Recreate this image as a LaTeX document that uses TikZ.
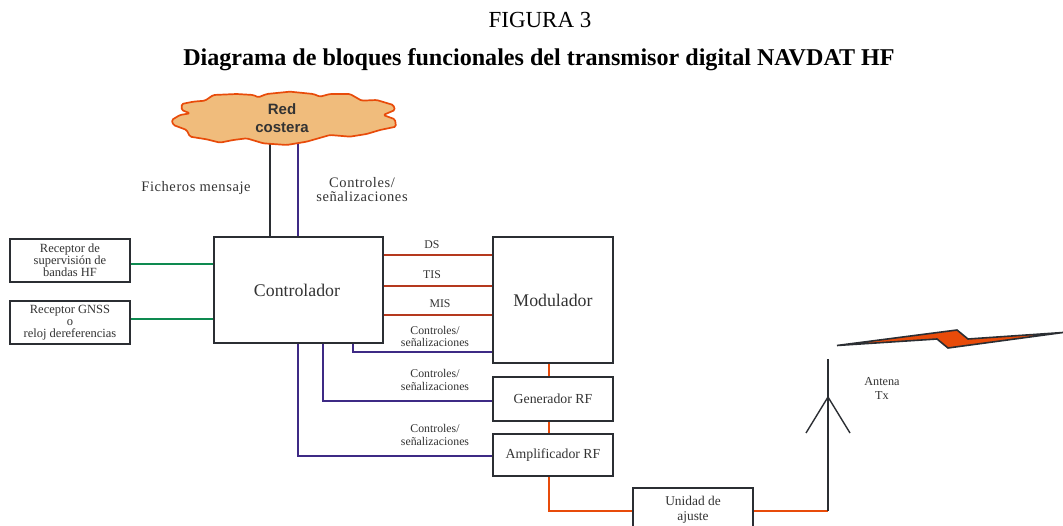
\documentclass[tikz,border=0pt]{standalone}
\usepackage{fontspec}
\setmainfont{Liberation Serif}
\newfontfamily\sansf{Liberation Sans}
\definecolor{dk}{HTML}{2B2E33}
\definecolor{grn}{HTML}{0E8A50}
\definecolor{pur}{HTML}{3E2A85}
\definecolor{brn}{HTML}{B5391E}
\definecolor{org}{HTML}{E84B0A}
\definecolor{sand}{HTML}{F0BC7C}
\definecolor{txt}{HTML}{333333}
\tikzset{
  x=1pt,y=-1pt,
  blk/.style={draw=dk,line width=1.6pt,fill=white,inner sep=0pt,align=center,text=txt},
  lbl/.style={inner sep=0pt,align=center,text=txt},
  sm/.style={font=\fontsize{11.8}{#1}\selectfont},
  lnk/.style={line width=1.5pt},
  ctl/.style={lnk,draw=pur},
  sig/.style={lnk,draw=brn},
  rf/.style={lnk,draw=org},
  gr/.style={lnk,draw=grn},
  ant/.style={line width=1.4pt,draw=dk},
}
\begin{document}
\begin{tikzpicture}
\useasboundingbox (0,0) rectangle (1063,526);
\node[inner sep=0pt,anchor=base,font=\fontsize{23}{23}\selectfont] (fig) at (540,28) {FIGURA 3};
\node[inner sep=0pt,anchor=base,font=\fontsize{24.1}{24.1}\selectfont\bfseries] (title) at (539,66) {Diagrama de bloques funcionales del transmisor digital NAVDAT HF};
% boxes
\node[blk,minimum width=120pt,minimum height=43pt,font=\fontsize{12.5}{11.8}\selectfont] (sup) at (70,260.5) {Receptor de\\supervisión de\\bandas HF};
\node[blk,minimum width=120pt,minimum height=43pt,font=\fontsize{12.5}{12}\selectfont] (gnss) at (70,322.5) {Receptor GNSS\\o\\reloj dereferencias};
\node[blk,minimum width=169pt,minimum height=106pt,font=\fontsize{17.8}{18}\selectfont] (ctrl) at (298.5,290) {Controlador\kern3pt};
\node[blk,minimum width=120pt,minimum height=126pt,font=\fontsize{17.8}{18}\selectfont] (mod) at (553,300) {Modulador};
\node[blk,minimum width=120pt,minimum height=44pt,font=\fontsize{13.8}{14}\selectfont] (gen) at (553,399) {Generador RF};
\node[blk,minimum width=120pt,minimum height=42pt,font=\fontsize{13.8}{14}\selectfont] (amp) at (553,455) {Amplificador RF};
\node[blk,minimum width=120pt,minimum height=43pt,font=\fontsize{13.4}{15}\selectfont,anchor=north] (unit) at (693,487) {Unidad de\\ajuste};
% cloud links
\coordinate (cA) at (270,143);
\coordinate (cB) at (298,143);
\draw[lnk,draw=dk] (cA) -- (ctrl.north -| cA);
\draw[ctl] (cB) -- (ctrl.north -| cB);
% cloud
\begin{scope}[shift={(150,80)},x=0.33333pt,y=-0.33333pt]
\draw[draw=org,line width=1.7pt,fill=sand,line join=round,rounded corners=1.5pt]
 (95,72) -- (130,65) -- (165,62) -- (190,45) -- (260,42) -- (310,45) -- (325,52) -- (350,42) -- (420,35) -- (490,42) -- (510,50) -- (540,42) -- (600,42) -- (635,62) -- (680,60) -- (730,75) -- (735,90) -- (700,105) -- (735,118) -- (738,140) -- (690,150) -- (650,162) -- (600,170) -- (540,165) -- (470,185) -- (410,195) -- (340,190) -- (290,175) -- (250,180) -- (210,188) -- (170,178) -- (120,170) -- (110,150) -- (70,135) -- (65,120) -- (90,105) -- (120,100) -- (95,90) -- cycle;
\end{scope}
\node[inner sep=0pt,align=center,text=txt,font=\sansf\fontsize{15}{18.5}\selectfont\bfseries] (red) at (282,118) {Red\\costera};
\node[lbl,font=\fontsize{14.5}{14}\selectfont\addfontfeature{LetterSpace=4}] (fm) at (196,188) {Ficheros mensaje};
\node[lbl,font=\fontsize{14.5}{14}\selectfont\addfontfeature{LetterSpace=4}] (cs0) at (362,190) {Controles/\\señalizaciones};
% left
\draw[gr] (sup.east |- 0,264) -- (ctrl.west |- 0,264);
\draw[gr] (gnss.east |- 0,319) -- (ctrl.west |- 0,319);
% signals
\foreach \n/\y/\t/\lx/\ly in {a/255/DS/432/245,b/286/TIS/432/275,c/315/MIS/440/304}{
  \coordinate (l\n) at (ctrl.east |- 0,\y);
  \coordinate (r\n) at (mod.west |- 0,\y);
  \draw[sig] (l\n) -- (r\n);
  \node[lbl,sm=12] (t\n) at (\lx,\ly) {\t};
}
\node[lbl,sm=12] (cs1) at (435,336) {Controles/\\señalizaciones};
\node[lbl,sm=13] (cs2) at (435,379.5) {Controles/\\señalizaciones};
\node[lbl,sm=13] (cs3) at (435,434.5) {Controles/\\señalizaciones};
% control links
\coordinate (k1) at (353,352);
\coordinate (k2) at (323,401);
\coordinate (k3) at (298,456);
\draw[ctl] (k1 |- ctrl.south) -- (k1) -- (k1 -| mod.west);
\draw[ctl] (k2 |- ctrl.south) -- (k2) -- (k2 -| gen.west);
\draw[ctl] (k3 |- ctrl.south) -- (k3) -- (k3 -| amp.west);
% rf
\coordinate (u1) at (549,511);
\draw[rf] (mod.south -| u1) -- (gen.north -| u1);
\draw[rf] (gen.south -| u1) -- (amp.north -| u1);
\draw[rf] (amp.south -| u1) -- (u1) -- (u1 -| unit.west);
\coordinate (ab) at (828,511);
\coordinate (at) at (828,359);
\draw[rf] (ab -| unit.east) -- (ab);
% antenna
\draw[ant] (ab) -- (at);
\coordinate (ac) at (828,397);
\coordinate (al) at (806,433);
\coordinate (ar) at (850,433);
\draw[ant,line join=round] (al) -- (ac) -- (ar);
\node[lbl,font=\fontsize{12.2}{14}\selectfont] (antl) at (882,388) {Antena\\Tx};
% bolt
\draw[draw=dk,line width=1.6pt,fill=org,line join=miter]
 (837,345.5) -- (957,330) -- (968,339) -- (1063,332.5) -- (948,348) -- (937,339) -- cycle;
\end{tikzpicture}
\end{document}
